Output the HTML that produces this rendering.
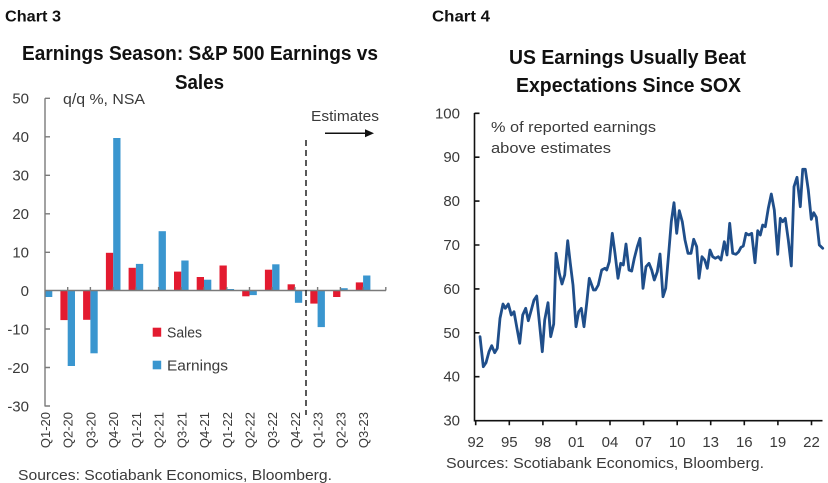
<!DOCTYPE html>
<html><head><meta charset="utf-8"><style>
html,body{margin:0;padding:0;background:#fff;}
svg{display:block;}
text{font-family:"Liberation Sans",sans-serif;fill:#3a3a3a;}
.b{font-weight:bold;fill:#111;}
</style></head><body>
<svg width="828" height="483" viewBox="0 0 828 483" xmlns="http://www.w3.org/2000/svg">
<rect width="828" height="483" fill="#fff"/>
<!-- Headers -->
<text class="b" x="5" y="21.5" font-size="16" textLength="56" lengthAdjust="spacingAndGlyphs">Chart 3</text>
<text class="b" x="432" y="21.5" font-size="16" textLength="58" lengthAdjust="spacingAndGlyphs">Chart 4</text>
<text class="b" x="22" y="60" font-size="20" textLength="356" lengthAdjust="spacingAndGlyphs">Earnings Season: S&amp;P 500 Earnings vs</text>
<text class="b" x="175" y="89" font-size="20" textLength="49" lengthAdjust="spacingAndGlyphs">Sales</text>
<text class="b" x="509" y="64" font-size="20" textLength="237" lengthAdjust="spacingAndGlyphs">US Earnings Usually Beat</text>
<text class="b" x="516" y="92" font-size="20" textLength="225" lengthAdjust="spacingAndGlyphs">Expectations Since SOX</text>

<!-- LEFT CHART -->
<g font-size="15" text-anchor="end">
<text x="29" y="103.3">50</text>
<text x="29" y="141.8">40</text>
<text x="29" y="180.3">30</text>
<text x="29" y="218.8">20</text>
<text x="29" y="257.3">10</text>
<text x="29" y="295.8">0</text>
<text x="29" y="334.3">-10</text>
<text x="29" y="372.8">-20</text>
<text x="29" y="411.3">-30</text>
</g>
<text x="63" y="104" font-size="15" textLength="82" lengthAdjust="spacingAndGlyphs">q/q %, NSA</text>
<text x="311" y="121" font-size="15" textLength="68" lengthAdjust="spacingAndGlyphs">Estimates</text>
<line x1="325" y1="133.3" x2="366" y2="133.3" stroke="#111" stroke-width="1.5"/>
<polygon points="365,129.3 374,133.3 365,137.3" fill="#111"/>

<!-- bars -->
<g fill="#e31b30">
<rect x="60.4" y="290.5" width="7.3" height="29.6"/>
<rect x="83.1" y="290.5" width="7.3" height="29.3"/>
<rect x="105.9" y="252.8" width="7.3" height="37.7"/>
<rect x="128.6" y="267.8" width="7.3" height="22.7"/>
<rect x="174" y="271.6" width="7.3" height="18.9"/>
<rect x="196.7" y="277" width="7.3" height="13.5"/>
<rect x="219.5" y="265.5" width="7.3" height="25"/>
<rect x="242.2" y="290.5" width="7.3" height="5.8"/>
<rect x="264.9" y="269.7" width="7.3" height="20.8"/>
<rect x="287.6" y="284.3" width="7.3" height="6.2"/>
<rect x="310.3" y="290.5" width="7.3" height="13.1"/>
<rect x="333.1" y="290.5" width="7.3" height="6.5"/>
<rect x="355.8" y="282.4" width="7.3" height="8.1"/>
</g>
<g fill="#3a96cf">
<rect x="45" y="290.5" width="7.3" height="6.5"/>
<rect x="67.7" y="290.5" width="7.3" height="75.5"/>
<rect x="90.4" y="290.5" width="7.3" height="62.8"/>
<rect x="113.2" y="138" width="7.3" height="152.5"/>
<rect x="135.9" y="263.9" width="7.3" height="26.6"/>
<rect x="158.6" y="231.2" width="7.3" height="59.3"/>
<rect x="181.3" y="260.5" width="7.3" height="30"/>
<rect x="204" y="279.7" width="7.3" height="10.8"/>
<rect x="226.8" y="289" width="7.3" height="1.5"/>
<rect x="249.5" y="290.5" width="7.3" height="4.6"/>
<rect x="272.2" y="264.3" width="7.3" height="26.2"/>
<rect x="294.9" y="290.5" width="7.3" height="12.3"/>
<rect x="317.6" y="290.5" width="7.3" height="36.6"/>
<rect x="340.4" y="288.2" width="7.3" height="2.3"/>
<rect x="363.1" y="275.5" width="7.3" height="15"/>
</g>
<!-- axes left -->
<g stroke="#7a7a7a" stroke-width="1.4" fill="none">
<line x1="45" y1="98.3" x2="45" y2="406.5"/>
<line x1="45" y1="290.5" x2="386" y2="290.5"/>
<path d="M45 98.3h5M45 136.8h5M45 175.3h5M45 213.8h5M45 252.3h5M45 329h5M45 367.5h5M45 406h5"/>
<path d="M67.7 290.5v-3.5M90.4 290.5v-3.5M113.2 290.5v-3.5M135.9 290.5v-3.5M158.6 290.5v-3.5M181.3 290.5v-3.5M204 290.5v-3.5M226.8 290.5v-3.5M249.5 290.5v-3.5M272.2 290.5v-3.5M294.9 290.5v-3.5M317.6 290.5v-3.5M340.4 290.5v-3.5M363.1 290.5v-3.5M385.8 290.5v-3.5"/>
</g>
<line x1="306" y1="140" x2="306" y2="415" stroke="#222" stroke-width="1.5" stroke-dasharray="6,4"/>
<!-- legend -->
<rect x="152.7" y="327.7" width="8.5" height="9" fill="#e31b30"/>
<text x="167" y="337.5" font-size="15" textLength="35" lengthAdjust="spacingAndGlyphs">Sales</text>
<rect x="152.7" y="360.7" width="8.5" height="8.6" fill="#3a96cf"/>
<text x="167" y="370.5" font-size="15" textLength="61" lengthAdjust="spacingAndGlyphs">Earnings</text>
<!-- x labels rotated -->
<g font-size="13" text-anchor="end">
<text transform="translate(45.5,412) rotate(-90)" y="4.5">Q1-20</text>
<text transform="translate(68.2,412) rotate(-90)" y="4.5">Q2-20</text>
<text transform="translate(90.9,412) rotate(-90)" y="4.5">Q3-20</text>
<text transform="translate(113.7,412) rotate(-90)" y="4.5">Q4-20</text>
<text transform="translate(136.4,412) rotate(-90)" y="4.5">Q1-21</text>
<text transform="translate(159.1,412) rotate(-90)" y="4.5">Q2-21</text>
<text transform="translate(181.8,412) rotate(-90)" y="4.5">Q3-21</text>
<text transform="translate(204.5,412) rotate(-90)" y="4.5">Q4-21</text>
<text transform="translate(227.3,412) rotate(-90)" y="4.5">Q1-22</text>
<text transform="translate(250,412) rotate(-90)" y="4.5">Q2-22</text>
<text transform="translate(272.7,412) rotate(-90)" y="4.5">Q3-22</text>
<text transform="translate(295.4,412) rotate(-90)" y="4.5">Q4-22</text>
<text transform="translate(318.1,412) rotate(-90)" y="4.5">Q1-23</text>
<text transform="translate(340.9,412) rotate(-90)" y="4.5">Q2-23</text>
<text transform="translate(363.6,412) rotate(-90)" y="4.5">Q3-23</text>
</g>
<text x="18" y="480" font-size="15" textLength="314" lengthAdjust="spacingAndGlyphs">Sources: Scotiabank Economics, Bloomberg.</text>

<!-- RIGHT CHART -->
<g font-size="15" text-anchor="end">
<text x="460" y="118.3">100</text>
<text x="460" y="162.2">90</text>
<text x="460" y="206.1">80</text>
<text x="460" y="250">70</text>
<text x="460" y="293.9">60</text>
<text x="460" y="337.8">50</text>
<text x="460" y="381.7">40</text>
<text x="460" y="425.6">30</text>
</g>
<text x="491" y="132" font-size="15" textLength="165" lengthAdjust="spacingAndGlyphs">% of reported earnings</text>
<text x="491" y="153" font-size="15" textLength="120" lengthAdjust="spacingAndGlyphs">above estimates</text>
<g stroke="#111" stroke-width="1.6" fill="none">
<line x1="474.5" y1="113" x2="474.5" y2="421.5"/>
<line x1="474.5" y1="420.7" x2="822.5" y2="420.7"/>
<path d="M474.5 113.3h5M474.5 157.2h5M474.5 201.1h5M474.5 245h5M474.5 288.9h5M474.5 332.8h5M474.5 376.7h5"/>
<path d="M475.7 420.7v4.5M509.3 420.7v4.5M542.9 420.7v4.5M576.4 420.7v4.5M610 420.7v4.5M643.6 420.7v4.5M677.2 420.7v4.5M710.7 420.7v4.5M744.3 420.7v4.5M777.9 420.7v4.5M811.5 420.7v4.5"/>
</g>
<g font-size="15" text-anchor="middle">
<text x="475.7" y="447">92</text>
<text x="509.3" y="447">95</text>
<text x="542.9" y="447">98</text>
<text x="576.4" y="447">01</text>
<text x="610" y="447">04</text>
<text x="643.6" y="447">07</text>
<text x="677.2" y="447">10</text>
<text x="710.7" y="447">13</text>
<text x="744.3" y="447">16</text>
<text x="777.9" y="447">19</text>
<text x="811.5" y="447">22</text>
</g>
<polyline fill="none" stroke="#1f4e8a" stroke-width="2.8" stroke-linejoin="round" stroke-linecap="round" points="480,336.7 483.3,366.7 486,362.7 489,351.7 491.7,345.7 494.7,352.7 497.3,348.3 500,318.3 503,304 505.3,308.3 508.3,304 511.3,315 514,311.7 516.7,326.7 519.7,343.3 522.7,315 525.7,308.3 528.3,320.7 531.3,310 534,300 536.7,296 539.3,321.7 542.3,351.7 544.7,320 548,302.7 550.7,336.7 553.7,324 556,253.3 559.3,273.3 562,284 564.7,275 567.7,240.7 570.3,263.3 573,285 576,326.7 578.7,311.7 581.3,308.3 584,326.7 586.7,303.3 589.3,278.3 593.5,290 595.5,290 598.3,285 601.7,270 605,268.3 606.7,270 609.3,261.7 612.3,233.3 615,253.3 618,278.3 620.7,263.3 623.3,265 626,244 629,270 631.7,271 634.3,258.3 637.3,246.7 640,238.3 643,288.3 646,266.7 649,263.3 651.7,270 654.3,280 657.3,271.7 660,254 663,296.7 665.7,288.3 668.7,253.3 671.3,221.7 674,202.7 676.7,233.3 679.3,210.7 682.3,221.7 685,240 688,253.3 691,253.3 693.7,239.3 696.7,246.7 699,278.3 702,256.7 704.7,260 707.3,268.3 710,250 712.7,256.7 715.3,258.3 718.3,256.7 721,260 724.3,241.7 727,255 729.7,223.3 732.7,253.3 736,254.3 738.7,251.7 741,247.3 743.3,246 746,233.3 748.7,235 751.7,233.3 755,262.7 757.7,230.7 760.3,235 762.7,225 765.3,226.7 768.3,208.3 771.3,194 774.3,210 777.7,254.3 780.3,218.3 782.7,221.7 785.3,218.3 788.3,240 791.3,266 794,186.7 797,177.3 800.3,206.7 802.7,169.3 805.3,169.3 808.3,190 811.3,219.3 813.7,212.7 816.3,217.3 819.3,245 822.7,248.3"/>
<text x="446" y="468" font-size="15" textLength="318" lengthAdjust="spacingAndGlyphs">Sources: Scotiabank Economics, Bloomberg.</text>
</svg>
</body></html>
